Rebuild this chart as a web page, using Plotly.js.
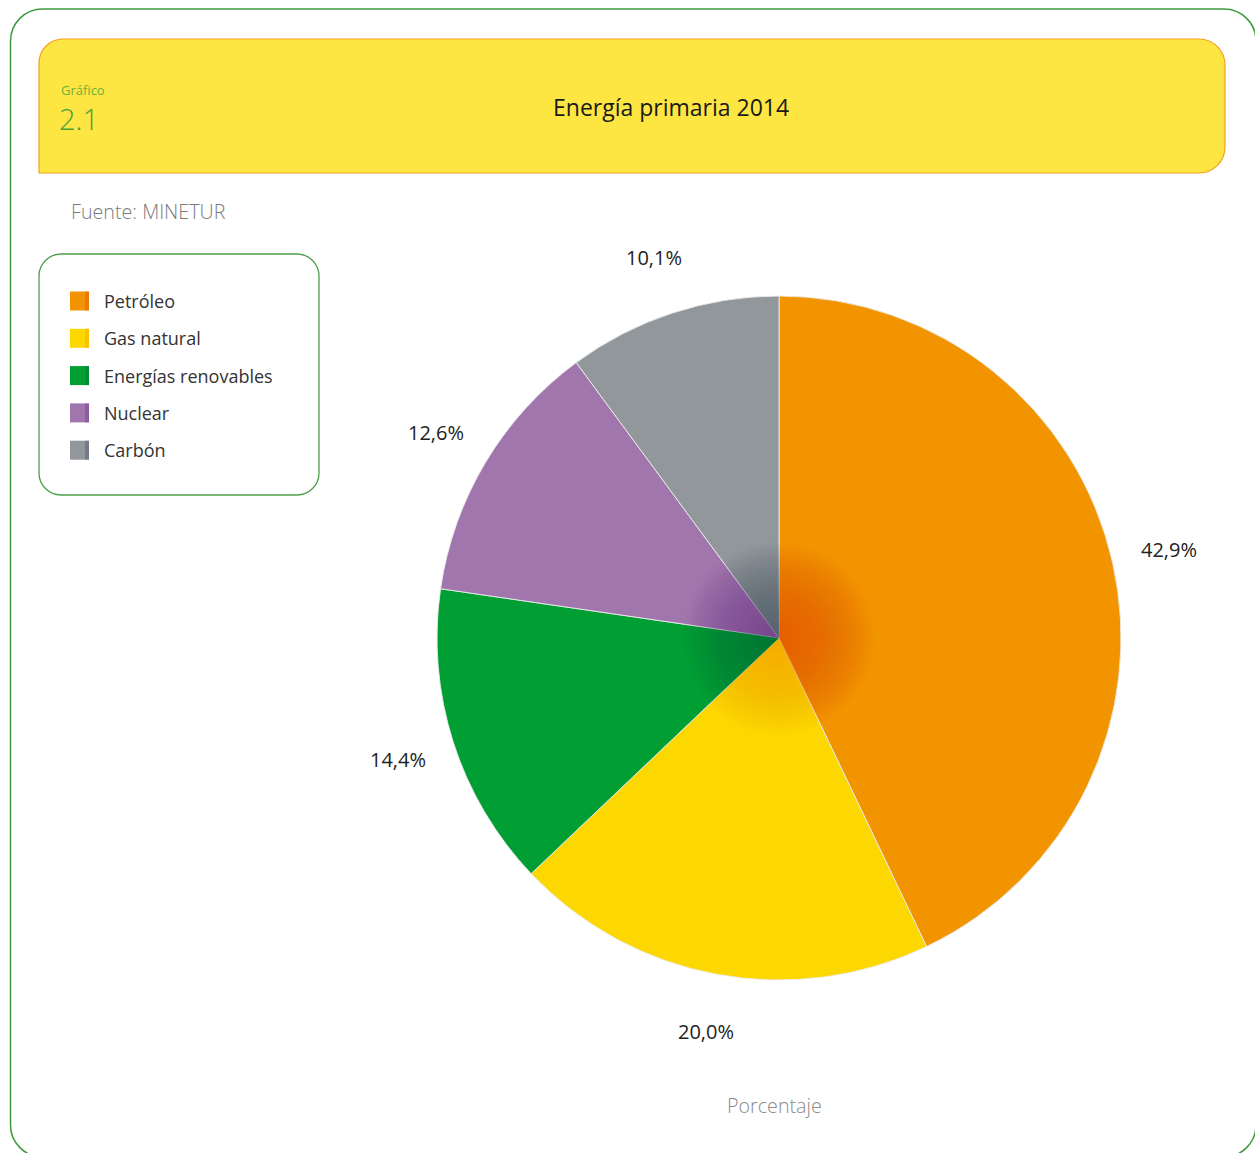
<!DOCTYPE html>
<html>
<head>
<meta charset="utf-8">
<script src="https://cdn.plot.ly/plotly-3.0.1.min.js"></script>
<style>
html,body{margin:0;padding:0;background:#fff;}
#chart{width:1255px;height:1153px;}
</style>
</head>
<body>
<div id="chart"></div>
<script>
// ---- data ----
var categories = ["Petróleo", "Gas natural", "Energías renovables", "Nuclear", "Carbón"];
var shares = [42.9, 20.0, 14.4, 12.6, 10.1];
var sliceColors = ["#F29400", "#FCD700", "#009E33", "#A176AD", "#92979C"];
var centerColors = ["#E6580C", "#F5A800", "#00733A", "#74408F", "#4E5C68"];
var chartTitle = "Energía primaria 2014";
var chartNumber = "2.1";
var sourceText = "Fuente: MINETUR";
var unitText = "Porcentaje";

// ---- layout helpers (pixels -> paper) ----
var W = 1255, H = 1153;
function px(x){ return x / W; }
function py(y){ return 1 - y / H; }
var K = 0.5523;
function roundRect(x0, y0, x1, y1, rtl, rtr, rbr, rbl){
  function P(x,y){ return px(x).toFixed(5) + "," + py(y).toFixed(5); }
  var d = "M" + P(x0 + rtl, y0);
  d += " L" + P(x1 - rtr, y0);
  if (rtr) d += " C" + P(x1 - rtr + rtr*K, y0) + " " + P(x1, y0 + rtr - rtr*K) + " " + P(x1, y0 + rtr);
  d += " L" + P(x1, y1 - rbr);
  if (rbr) d += " C" + P(x1, y1 - rbr + rbr*K) + " " + P(x1 - rbr + rbr*K, y1) + " " + P(x1 - rbr, y1);
  d += " L" + P(x0 + rbl, y1);
  if (rbl) d += " C" + P(x0 + rbl - rbl*K, y1) + " " + P(x0, y1 - rbl + rbl*K) + " " + P(x0, y1 - rbl);
  d += " L" + P(x0, y0 + rtl);
  if (rtl) d += " C" + P(x0, y0 + rtl - rtl*K) + " " + P(x0 + rtl - rtl*K, y0) + " " + P(x0 + rtl, y0);
  return d + " Z";
}

// pie geometry (pixels)
var cx = 779, cy = 638, R = 342;
function domainFor(r){
  return { x: [px(cx - r), px(cx + r)], y: [py(cy + r), py(cy - r)] };
}

var traces = [{
  type: "pie",
  labels: categories,
  values: shares,
  sort: false,
  direction: "clockwise",
  rotation: 0,
  marker: { colors: sliceColors, line: { color: "rgba(235,235,235,0.9)", width: 1 } },
  textinfo: "none",
  hoverinfo: "label+percent",
  showlegend: false,
  domain: domainFor(R)
}];

// soft radial darkening toward the centre (stacked translucent pies)
var layers = 30, maxR = 95;
for (var i = 1; i <= layers; i++) {
  traces.push({
    type: "pie",
    labels: categories,
    values: shares,
    sort: false,
    direction: "clockwise",
    rotation: 0,
    marker: { colors: centerColors, line: { width: 0 } },
    opacity: 0.042,
    textinfo: "none",
    hoverinfo: "skip",
    showlegend: false,
    domain: domainFor(maxR * i / layers)
  });
}

var shapes = [
  // outer frame
  { type: "path", xref: "paper", yref: "paper", path: roundRect(10.5, 9, 1256, 1157, 32, 32, 32, 32),
    line: { color: "#3E9A3E", width: 1.5 }, fillcolor: "rgba(0,0,0,0)", layer: "below" },
  // header band
  { type: "path", xref: "paper", yref: "paper", path: roundRect(39, 39, 1225, 173, 24, 26, 26, 0),
    line: { color: "#F4A11E", width: 1.2 }, fillcolor: "#FEE642", layer: "below" },
  // legend box
  { type: "path", xref: "paper", yref: "paper", path: roundRect(39, 254, 319, 495, 22, 22, 22, 22),
    line: { color: "#4E9E4A", width: 1.3 }, fillcolor: "rgba(0,0,0,0)", layer: "below" }
];

var annotations = [
  { text: "Gráfico", x: px(59), y: py(90), xanchor: "left", yanchor: "middle", showarrow: false,
    font: { family: "Open Sans", size: 13, color: "#6FAE3C" } },
  { text: chartNumber, x: px(57), y: py(118), xanchor: "left", yanchor: "middle", showarrow: false,
    font: { family: "Open Sans", size: 29, color: "#4B9E3B", weight: 300 } },
  { text: chartTitle, x: px(671), y: py(107), xanchor: "center", yanchor: "middle", showarrow: false,
    font: { family: "Open Sans", size: 23, color: "#1A1A1A" } },
  { text: sourceText, x: px(69), y: py(212), xanchor: "left", yanchor: "middle", showarrow: false,
    font: { family: "Open Sans", size: 19.7, color: "#7A7A7A", weight: 300 } },
  { text: unitText, x: px(774), y: py(1105), xanchor: "center", yanchor: "middle", showarrow: false,
    font: { family: "Open Sans", size: 19.7, color: "#8A8A8A", weight: 300 } }
];

// custom legend built from categories / colours
var legTop = 301, legStep = 37.3;
categories.forEach(function(c, i){
  var yc = legTop + i * legStep;
  shapes.push({ type: "rect", xref: "paper", yref: "paper",
    x0: px(70), x1: px(89), y0: py(yc + 9.5), y1: py(yc - 9.5),
    fillcolor: sliceColors[i], line: { width: 0 } });
  shapes.push({ type: "rect", xref: "paper", yref: "paper",
    x0: px(85), x1: px(89), y0: py(yc + 9.5), y1: py(yc - 9.5),
    fillcolor: centerColors[i], opacity: 0.45, line: { width: 0 } });
  annotations.push({ text: c, x: px(102), y: py(yc), xanchor: "left", yanchor: "middle", showarrow: false,
    font: { family: "Open Sans", size: 18, color: "#333333" } });
});

// value labels placed outside each slice at its mid-angle
var total = shares.reduce(function(a, b){ return a + b; }, 0);
var acc = 0;
shares.forEach(function(v, i){
  var mid = (acc + v / 2) / total * 2 * Math.PI;
  acc += v;
  var dist = R * 1.17;
  var lx = cx + dist * Math.sin(mid);
  var ly = cy - dist * Math.cos(mid);
  annotations.push({ text: v.toFixed(1).replace(".", ",") + "%", x: px(lx), y: py(ly),
    xanchor: "center", yanchor: "middle", showarrow: false,
    font: { family: "Open Sans", size: 20, color: "#222222" } });
});

var layout = {
  width: W, height: H,
  margin: { l: 0, r: 0, t: 0, b: 0 },
  paper_bgcolor: "#FFFFFF",
  showlegend: false,
  shapes: shapes,
  annotations: annotations,
  font: { family: "Open Sans" }
};

Plotly.newPlot("chart", traces, layout, { displayModeBar: false, staticPlot: true });
</script>
</body>
</html>
